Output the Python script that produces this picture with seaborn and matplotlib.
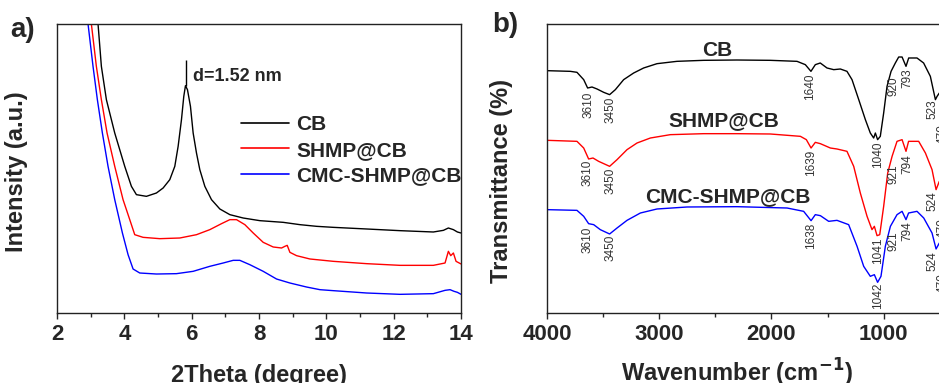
import numpy as np
import pandas as pd
import matplotlib
matplotlib.use("Agg")
import matplotlib.pyplot as plt
import seaborn as sns

# ---------------- Panel a: XRD ----------------
xrd_cb_x = [3.219, 3.318, 3.467, 3.715, 4.012, 4.210, 4.359, 4.656, 4.953, 5.152, 5.350, 5.499,
            5.598, 5.697, 5.766, 5.816, 5.875, 5.964, 6.044, 6.143, 6.242, 6.391, 6.589, 6.837,
            7.134, 7.530, 8.026, 8.719, 9.215, 9.711, 10.206, 11.197, 12.188, 13.179, 13.477,
            13.625, 13.774, 13.893, 14.002]
xrd_cb_y = [100.0, 85.35, 73.82, 62.28, 50.75, 43.83, 40.95, 40.37, 41.52, 43.25, 46.14, 50.75,
            57.67, 66.90, 74.97, 78.66, 77.28, 71.51, 62.28, 55.36, 49.60, 43.83, 39.22, 35.99,
            34.03, 32.87, 31.95, 31.37, 30.57, 29.99, 29.64, 29.07, 28.49, 28.03, 28.60,
            29.41, 28.84, 28.03, 27.68]

xrd_shmp_x = [3.021, 3.169, 3.318, 3.487, 3.715, 3.962, 4.161, 4.309, 4.557, 5.053, 5.647, 6.143,
              6.539, 6.886, 7.134, 7.332, 7.580, 7.828, 8.125, 8.422, 8.670, 8.769, 8.838, 8.918,
              9.116, 9.512, 10.206, 11.197, 12.188, 13.179, 13.526, 13.625, 13.695, 13.774,
              13.853, 14.002]
xrd_shmp_y = [100.0, 85.35, 73.82, 62.28, 50.75, 39.22, 32.30, 27.10, 26.18, 25.72, 25.95, 27.10,
              28.84, 30.91, 32.30, 32.30, 30.57, 27.68, 24.45, 22.84, 22.49, 23.07, 23.41, 20.99,
              19.84, 18.69, 17.88, 17.07, 16.49, 16.49, 17.30, 21.34, 19.84, 20.76,
              17.88, 16.96]

xrd_cmc_x = [2.922, 3.070, 3.199, 3.348, 3.516, 3.715, 3.943, 4.111, 4.260, 4.458, 4.953, 5.548,
             6.044, 6.539, 6.936, 7.233, 7.431, 7.728, 8.125, 8.521, 8.918, 9.413, 9.810, 10.206,
             11.197, 12.188, 13.179, 13.526, 13.675, 13.794, 13.893, 14.002]
xrd_cmc_y = [100.0, 85.35, 73.82, 62.28, 50.75, 39.22, 27.68, 20.18, 15.22, 13.84, 13.49, 13.61,
             14.42, 16.15, 17.30, 18.22, 18.22, 16.72, 14.42, 11.76, 10.38, 8.99, 8.07, 7.73,
             6.92, 6.46, 6.69, 7.84, 8.07, 7.50, 7.15, 6.46]

xrd_series = ["CB", "SHMP@CB", "CMC-SHMP@CB"]
xrd_peak_pos = 5.82
xrd_peak_top = 87.5
xrd_peak_text = "d=1.52 nm"

# ---------------- Panel b: FTIR ----------------
ir_cb_x = [4000, 3792, 3733, 3673, 3638, 3599, 3554, 3495, 3442, 3391, 3317, 3228, 3139, 3020,
           2842, 2604, 2307, 2010, 1772, 1698, 1648, 1609, 1565, 1505, 1445, 1386, 1327, 1282,
           1222, 1163, 1119, 1089, 1074, 1054, 1030, 1000, 970, 934, 896, 866, 836, 801, 777,
           703, 644, 584, 539, 524, 504]
ir_cb_y = [83.85, 83.62, 83.28, 80.74, 77.85, 78.20, 77.51, 76.36, 75.55, 77.28, 80.74, 83.04,
           84.78, 86.27, 87.08, 87.43, 87.54, 87.43, 87.08, 85.93, 83.62, 85.93, 86.51, 84.78,
           84.20, 84.43, 83.62, 80.74, 73.82, 66.90, 62.28, 60.55, 62.28, 59.98, 61.13, 69.20,
           78.43, 83.62, 86.51, 88.58, 88.58, 85.35, 88.24, 88.24, 86.51, 81.89, 73.82, 74.97,
           76.12]

ir_shmp_x = [4000, 3733, 3673, 3629, 3590, 3540, 3442, 3376, 3287, 3198, 3079, 2901, 2604, 2307,
             2010, 1742, 1689, 1647, 1609, 1564, 1475, 1416, 1327, 1267, 1208, 1148, 1104, 1083,
             1059, 1035, 1000, 964, 925, 881, 836, 801, 778, 688, 628, 569, 533, 504]
ir_shmp_y = [59.75, 59.40, 57.09, 53.29, 53.63, 52.48, 50.75, 53.06, 56.52, 58.82, 60.55, 61.71,
             62.05, 62.05, 61.94, 61.13, 59.98, 57.09, 59.05, 58.59, 57.09, 56.75, 55.94, 50.75,
             41.52, 33.45, 28.84, 29.99, 26.76, 27.10, 36.91, 48.44, 54.21, 59.40, 59.98, 55.94,
             59.40, 59.40, 55.36, 49.60, 42.68, 45.56]

ir_cmc_x = [4000, 3733, 3673, 3629, 3584, 3525, 3442, 3376, 3287, 3168, 3020, 2752, 2307, 1861,
            1713, 1647, 1609, 1564, 1490, 1416, 1312, 1237, 1178, 1119, 1083, 1054, 1024, 985,
            940, 881, 836, 801, 778, 703, 643, 569, 533, 504]
ir_cmc_y = [35.76, 35.52, 33.45, 30.91, 30.57, 28.84, 27.34, 29.41, 32.06, 34.60, 35.99, 36.68,
            36.79, 36.33, 35.18, 31.95, 34.03, 33.68, 31.72, 32.06, 30.57, 23.07, 16.15, 12.69,
            13.26, 10.61, 12.69, 23.07, 29.99, 34.03, 35.18, 32.30, 34.60, 35.18, 32.87, 27.68,
            22.15, 24.22]

ir_name_pos = [(2479, 90.9), (2426, 66.7), (2390, 40.4)]

# peak annotations (text, wavenumber position, top of text)
ir_cb_peaks = [("3610", 3629, 76.7), ("3450", 3436, 75.0), ("1640", 1654, 83.0), ("1040", 1054, 59.4),
               ("920", 911, 81.9), ("793", 792, 84.8), ("523", 564, 73.8), ("470", 471, 65.2)]
ir_shmp_peaks = [("3610", 3638, 53.1), ("3450", 3436, 50.2), ("1639", 1648, 56.5), ("1041", 1054, 26.0),
                 ("921", 911, 51.3), ("794", 792, 54.8), ("524", 564, 42.1), ("470", 471, 32.9)]
ir_cmc_peaks = [("3610", 3638, 30.0), ("3450", 3436, 27.1), ("1638", 1648, 31.1), ("1042", 1054, 10.4),
                ("921", 911, 28.3), ("794", 792, 31.7), ("524", 564, 21.3), ("470", 471, 13.8)]

colors = ["#000000", "#ff0000", "#0000ff"]

# ---------------- Figure ----------------
sns.set_theme(style="white")
plt.rcParams["font.family"] = ["Liberation Sans", "DejaVu Sans"]
plt.rcParams["axes.edgecolor"] = "#222222"
plt.rcParams["axes.linewidth"] = 1.0

W, H = 939, 383
fig = plt.figure(figsize=(W / 100, H / 100), dpi=100)
ax_a = fig.add_axes([57 / W, (H - 313) / H, 404 / W, 289 / H])
ax_b = fig.add_axes([547 / W, (H - 313) / H, 404 / W, 289 / H])

tickfont = dict(family=["Liberation Sans", "DejaVu Sans"], weight="bold", size=16)
lw = 1.0

# Panel a
xrd_data = [(xrd_cb_x, xrd_cb_y), (xrd_shmp_x, xrd_shmp_y), (xrd_cmc_x, xrd_cmc_y)]
for (xs, ys), name, c in zip(xrd_data, xrd_series, colors):
    df = pd.DataFrame({"x": xs, "y": ys})
    sns.lineplot(data=df, x="x", y="y", color=c, lw=lw, ax=ax_a, label=name,
                 estimator=None, sort=False)
ax_a.vlines(xrd_peak_pos, xrd_cb_y[15], xrd_peak_top, color="black", lw=1.0)
ax_a.text(6.04, 82.0, xrd_peak_text, fontsize=13, fontweight="bold", va="center", ha="left")
ax_a.set_xlim(2, 14)
ax_a.set_ylim(0, 100)
ax_a.set_xticks([2, 4, 6, 8, 10, 12, 14])
ax_a.set_xticks(np.arange(3, 14, 2), minor=True)
ax_a.set_yticks([])
ax_a.set_xticklabels([str(v) for v in [2, 4, 6, 8, 10, 12, 14]], fontdict=tickfont)
ax_a.tick_params(axis="x", which="major", direction="out", length=4, width=1, pad=4, bottom=True)
ax_a.tick_params(axis="x", which="minor", direction="out", length=3, width=1, bottom=True)
ax_a.set_xlabel("2Theta (degree)", fontsize=17, fontweight="bold")
ax_a.xaxis.set_label_coords(0.5, -0.175)
ax_a.set_ylabel("Intensity (a.u.)", fontsize=17, fontweight="bold")
ax_a.yaxis.set_label_coords(-0.072, 0.49)
leg = ax_a.legend(loc="upper left", bbox_to_anchor=(0.455, 0.685), frameon=False,
                  prop=dict(weight="bold", size=15), handlelength=2.3, handletextpad=0.35,
                  labelspacing=0.32, borderpad=0, borderaxespad=0)
for line in leg.get_lines():
    line.set_linewidth(1.2)

# Panel b
ir_data = [(ir_cb_x, ir_cb_y), (ir_shmp_x, ir_shmp_y), (ir_cmc_x, ir_cmc_y)]
for (xs, ys), name, c, (nx, ny) in zip(ir_data, xrd_series, colors, ir_name_pos):
    df = pd.DataFrame({"x": xs, "y": ys})
    sns.lineplot(data=df, x="x", y="y", color=c, lw=lw, ax=ax_b, estimator=None, sort=False)
    ax_b.text(nx, ny, name, fontsize=15, fontweight="bold", ha="center", va="center")
for peaks in (ir_cb_peaks, ir_shmp_peaks, ir_cmc_peaks):
    for txt, px, py in peaks:
        ax_b.text(px, py, txt, rotation=90, fontsize=8.5, color="#333333",
                  ha="center", va="top", clip_on=True)
ax_b.set_xlim(4000, 400)
ax_b.set_ylim(0, 100)
ax_b.set_xticks([4000, 3000, 2000, 1000])
ax_b.set_xticks([3500, 2500, 1500, 500], minor=True)
ax_b.set_yticks([])
ax_b.set_xticklabels(["4000", "3000", "2000", "1000"], fontdict=tickfont)
ax_b.tick_params(axis="x", which="major", direction="out", length=4, width=1, pad=4, bottom=True)
ax_b.tick_params(axis="x", which="minor", direction="out", length=3, width=1, bottom=True)
ax_b.set_xlabel(r"Wavenumber (cm$^{\mathbf{-1}}$)", fontsize=17, fontweight="bold")
ax_b.xaxis.set_label_coords(0.47, -0.15)
ax_b.set_ylabel("Transmittance (%)", fontsize=17, fontweight="bold")
ax_b.yaxis.set_label_coords(-0.084, 0.457)

for ax in (ax_a, ax_b):
    for s in ax.spines.values():
        s.set_visible(True)
        s.set_color("#222222")

fig.text(10 / W, 1 - 17 / H, "a)", fontsize=20, fontweight="bold", ha="left", va="top")
fig.text(492 / W, 1 - 12 / H, "b)", fontsize=20, fontweight="bold", ha="left", va="top")

fig.savefig("out.png", dpi=100)
